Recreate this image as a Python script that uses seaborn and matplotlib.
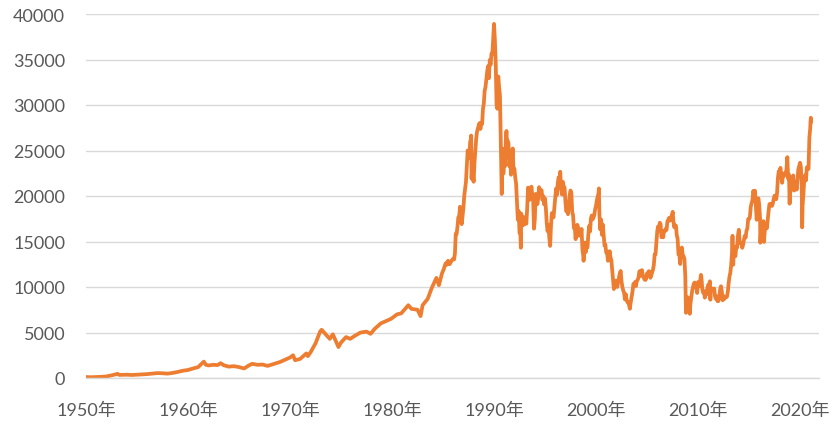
import numpy as np
import pandas as pd
import matplotlib
matplotlib.use("Agg")
import matplotlib.pyplot as plt
import seaborn as sns

# ---------------- data ----------------
early_dates = [1950.0, 1950.5, 1951.0, 1951.5, 1952.0, 1952.5, 1953.1, 1953.25, 1953.5,
               1954.0, 1954.5, 1955.0, 1955.5, 1956.0, 1956.5, 1957.0, 1957.5, 1958.0,
               1958.5, 1959.0, 1959.5, 1960.0, 1960.5, 1961.0, 1961.55, 1961.75, 1962.0,
               1962.5, 1962.9, 1963.2, 1963.5, 1964.0, 1964.5, 1965.0, 1965.5, 1966.0,
               1966.3, 1966.8, 1967.3, 1967.8, 1968.5, 1969.0, 1969.5, 1970.0, 1970.3,
               1970.5, 1971.0, 1971.6, 1971.75, 1972.0, 1972.5, 1972.95, 1973.1, 1973.5,
               1973.9, 1974.2, 1974.75, 1975.0, 1975.5, 1975.9, 1976.3, 1976.9, 1977.5,
               1977.9, 1978.3, 1978.9, 1979.5, 1979.9, 1980.5, 1980.9, 1981.6, 1981.9,
               1982.5, 1982.8, 1983.0, 1983.5, 1983.9, 1984.35, 1984.6, 1984.9]
early_values = [105, 86, 102, 130, 170, 290, 460, 340, 350,
                360, 330, 360, 380, 430, 480, 540, 520, 480,
                560, 670, 800, 880, 1050, 1200, 1800, 1450, 1380,
                1450, 1420, 1630, 1400, 1250, 1300, 1200, 1050, 1400,
                1560, 1450, 1480, 1330, 1580, 1750, 2000, 2250, 2500,
                1950, 2100, 2700, 2400, 2800, 3800, 5100, 5300, 4800,
                4300, 4800, 3400, 3900, 4500, 4300, 4600, 4990, 5100,
                4850, 5400, 6000, 6300, 6500, 7000, 7100, 8000, 7600,
                7500, 6800, 8000, 8700, 9900, 11000, 10200, 11500]

monthly_start = 1985
monthly_values = [
    [11992, 12321, 12580, 12426, 12759, 12882, 12509, 12525, 12700, 12886, 13000, 13113],  # 1985
    [13024, 13640, 15859, 15825, 16598, 17654, 17750, 18820, 17852, 16910, 17852, 18701],  # 1986
    [20048, 20766, 21566, 23274, 25000, 24176, 24489, 26029, 26011, 22765, 22687, 21564],  # 1987
    [23622, 24902, 26260, 27056, 27417, 27769, 28019, 27366, 27924, 27923, 29579, 30159],  # 1988
    [31581, 31985, 32838, 33713, 34266, 32948, 34954, 34431, 35636, 35549, 37269, 38916],  # 1989
    [37189, 34591, 29980, 29584, 33131, 31940, 31036, 25978, 20984, 25194, 22454, 23849],  # 1990
    [23293, 26409, 26292, 26111, 25790, 23291, 24121, 22336, 23916, 25222, 22688, 22984],  # 1991
    [22023, 21338, 19346, 17390, 18348, 15952, 15910, 18061, 17399, 16767, 17684, 16925],  # 1992
    [17023, 16953, 18591, 20919, 20552, 19590, 20380, 21027, 20106, 19704, 16408, 17417],  # 1993
    [20229, 19997, 19112, 19725, 20974, 20644, 20642, 20629, 19564, 19990, 19076, 19723],  # 1994
    [18650, 17053, 16140, 16807, 15437, 14517, 16678, 18117, 17913, 17655, 18744, 19868],  # 1995
    [20813, 20125, 21406, 22041, 21956, 22531, 20692, 20166, 21556, 21040, 20935, 19361],  # 1996
    [18330, 18557, 18003, 19151, 20068, 20605, 20331, 18229, 17888, 16459, 16636, 15259],  # 1997
    [16628, 16831, 16527, 15641, 15671, 15830, 16379, 14108, 13406, 13565, 14884, 13842],  # 1998
    [14500, 14368, 15837, 16701, 16112, 17530, 17862, 17437, 17605, 17942, 18558, 18934],  # 1999
    [19540, 19960, 20337, 17974, 16332, 17411, 15727, 16861, 15747, 14539, 14649, 13786],  # 2000
    [13844, 12884, 13000, 13934, 13262, 12969, 11861, 10714, 9775, 10367, 10697, 10543],   # 2001
    [9998, 10588, 11025, 11493, 11764, 10622, 10000, 9620, 9383, 8640, 9216, 8579],        # 2002
    [8340, 8363, 7973, 7831, 8425, 9083, 9563, 10344, 10219, 10560, 10101, 10677],         # 2003
    [10784, 11042, 11715, 11762, 11236, 11859, 11326, 11082, 10824, 10771, 10899, 11489],  # 2004
    [11388, 11741, 11668, 11009, 11277, 11584, 11900, 12414, 13574, 13607, 14872, 16111],  # 2005
    [16650, 16206, 17060, 16906, 15467, 15505, 15457, 16141, 16128, 16399, 16274, 17226],  # 2006
    [17383, 17604, 17288, 17400, 17876, 18138, 17249, 16569, 16786, 16738, 15681, 15307],  # 2007
    [13592, 13603, 12526, 13850, 14339, 13481, 13377, 13073, 11260, 8577, 8512, 8860],     # 2008
    [7994, 7568, 8110, 8828, 9523, 9958, 10357, 10493, 10133, 10035, 9346, 10546],         # 2009
    [10198, 10126, 11090, 11057, 9768, 9382, 9537, 8824, 9369, 9202, 9937, 10229],         # 2010
    [10237, 10624, 9755, 9850, 9693, 9816, 9833, 8955, 8700, 8988, 8434, 8455],            # 2011
    [8803, 9723, 10084, 9521, 8543, 9007, 8695, 8840, 8870, 8928, 9446, 10395],            # 2012
    [11139, 11559, 12398, 13861, 13775, 13677, 13668, 13389, 14456, 14328, 15662, 16291],  # 2013
    [14915, 14841, 14828, 14304, 14632, 15162, 15621, 15425, 16174, 16414, 17460, 17451],  # 2014
    [17674, 18798, 19207, 19520, 20563, 20236, 20585, 18890, 17388, 19083, 19747, 19034],  # 2015
    [17518, 16027, 16759, 16666, 17235, 15576, 16569, 16887, 16450, 17425, 18308, 19114],  # 2016
    [19041, 19119, 18909, 19197, 19651, 20033, 19925, 19646, 20356, 22012, 22725, 22765],  # 2017
    [23098, 22068, 21454, 22468, 22202, 22305, 22554, 22865, 24120, 21920, 22351, 20015],  # 2018
    [20773, 21385, 21206, 22259, 20601, 21276, 21522, 20704, 21756, 22927, 23294, 23657],  # 2019
    [23205, 21143, 18917, 20194, 21878, 22288, 21710, 23140, 23185, 22977, 26434, 27444],  # 2020
]

extreme_dates = [1987.76, 1987.80, 1990.755, 1991.22, 1992.63, 1996.49, 1998.78, 2000.28,
                 2003.32, 2007.52, 2008.82, 2009.19, 2010.29, 2011.21, 2013.38, 2013.45,
                 2016.11, 2016.48, 2018.755, 2018.98, 2020.21, 2021.03, 2021.06, 2021.08]
extreme_values = [26646, 21910, 20222, 27146, 14309, 22666, 12880, 20833,
                  7607, 18262, 7162, 7054, 11339, 8605, 15627, 12445,
                  14865, 14952, 24270, 19155, 16552, 28200, 28600, 28100]

tick_years = [1950, 1960, 1970, 1980, 1990, 2000, 2010, 2020]
tick_labels = [f"{y}年" for y in tick_years]
y_ticks = [0, 5000, 10000, 15000, 20000, 25000, 30000, 35000, 40000]

# ---------------- assemble ----------------
dates = list(early_dates)
vals = list(early_values)
for i, row in enumerate(monthly_values):
    for m, v in enumerate(row):
        dates.append(monthly_start + i + (m + 1) / 12.0)
        vals.append(v)
dates += extreme_dates
vals += extreme_values
df = pd.DataFrame({"date": dates, "value": vals}).sort_values("date").reset_index(drop=True)

# ---------------- plot ----------------
sns.set_style("white")
plt.rcParams["font.family"] = ["Lato", "Noto Sans CJK JP", "DejaVu Sans"]

fig = plt.figure(figsize=(8.4, 4.35), dpi=100)
ax = fig.add_axes([86 / 840, 1 - 379 / 435, (819 - 86) / 840, (379 - 15) / 435])

sns.lineplot(data=df, x="date", y="value", ax=ax, color="#ED7D31",
             linewidth=2.7, sort=False, estimator=None)

ax.set_xlim(1950, 2021.86)
ax.set_ylim(0, 40000)
ax.set_yticks(y_ticks)
ax.set_yticklabels([str(v) for v in y_ticks])
ax.set_xticks(tick_years)
ax.set_xticklabels(tick_labels)
ax.set_xlabel("")
ax.set_ylabel("")

ax.grid(axis="y", color="#D9D9D9", linewidth=1.0)
ax.grid(axis="x", visible=False)
ax.set_axisbelow(True)
for s in ["top", "right", "left"]:
    ax.spines[s].set_visible(False)
ax.spines["bottom"].set_color("#D9D9D9")
ax.spines["bottom"].set_linewidth(1.0)

ax.tick_params(axis="y", length=0, pad=15, labelsize=13, labelcolor="#595959")
ax.tick_params(axis="x", length=5, width=1, color="#D9D9D9", pad=12,
               labelsize=13, labelcolor="#595959")

fig.savefig("out.png", dpi=100)
